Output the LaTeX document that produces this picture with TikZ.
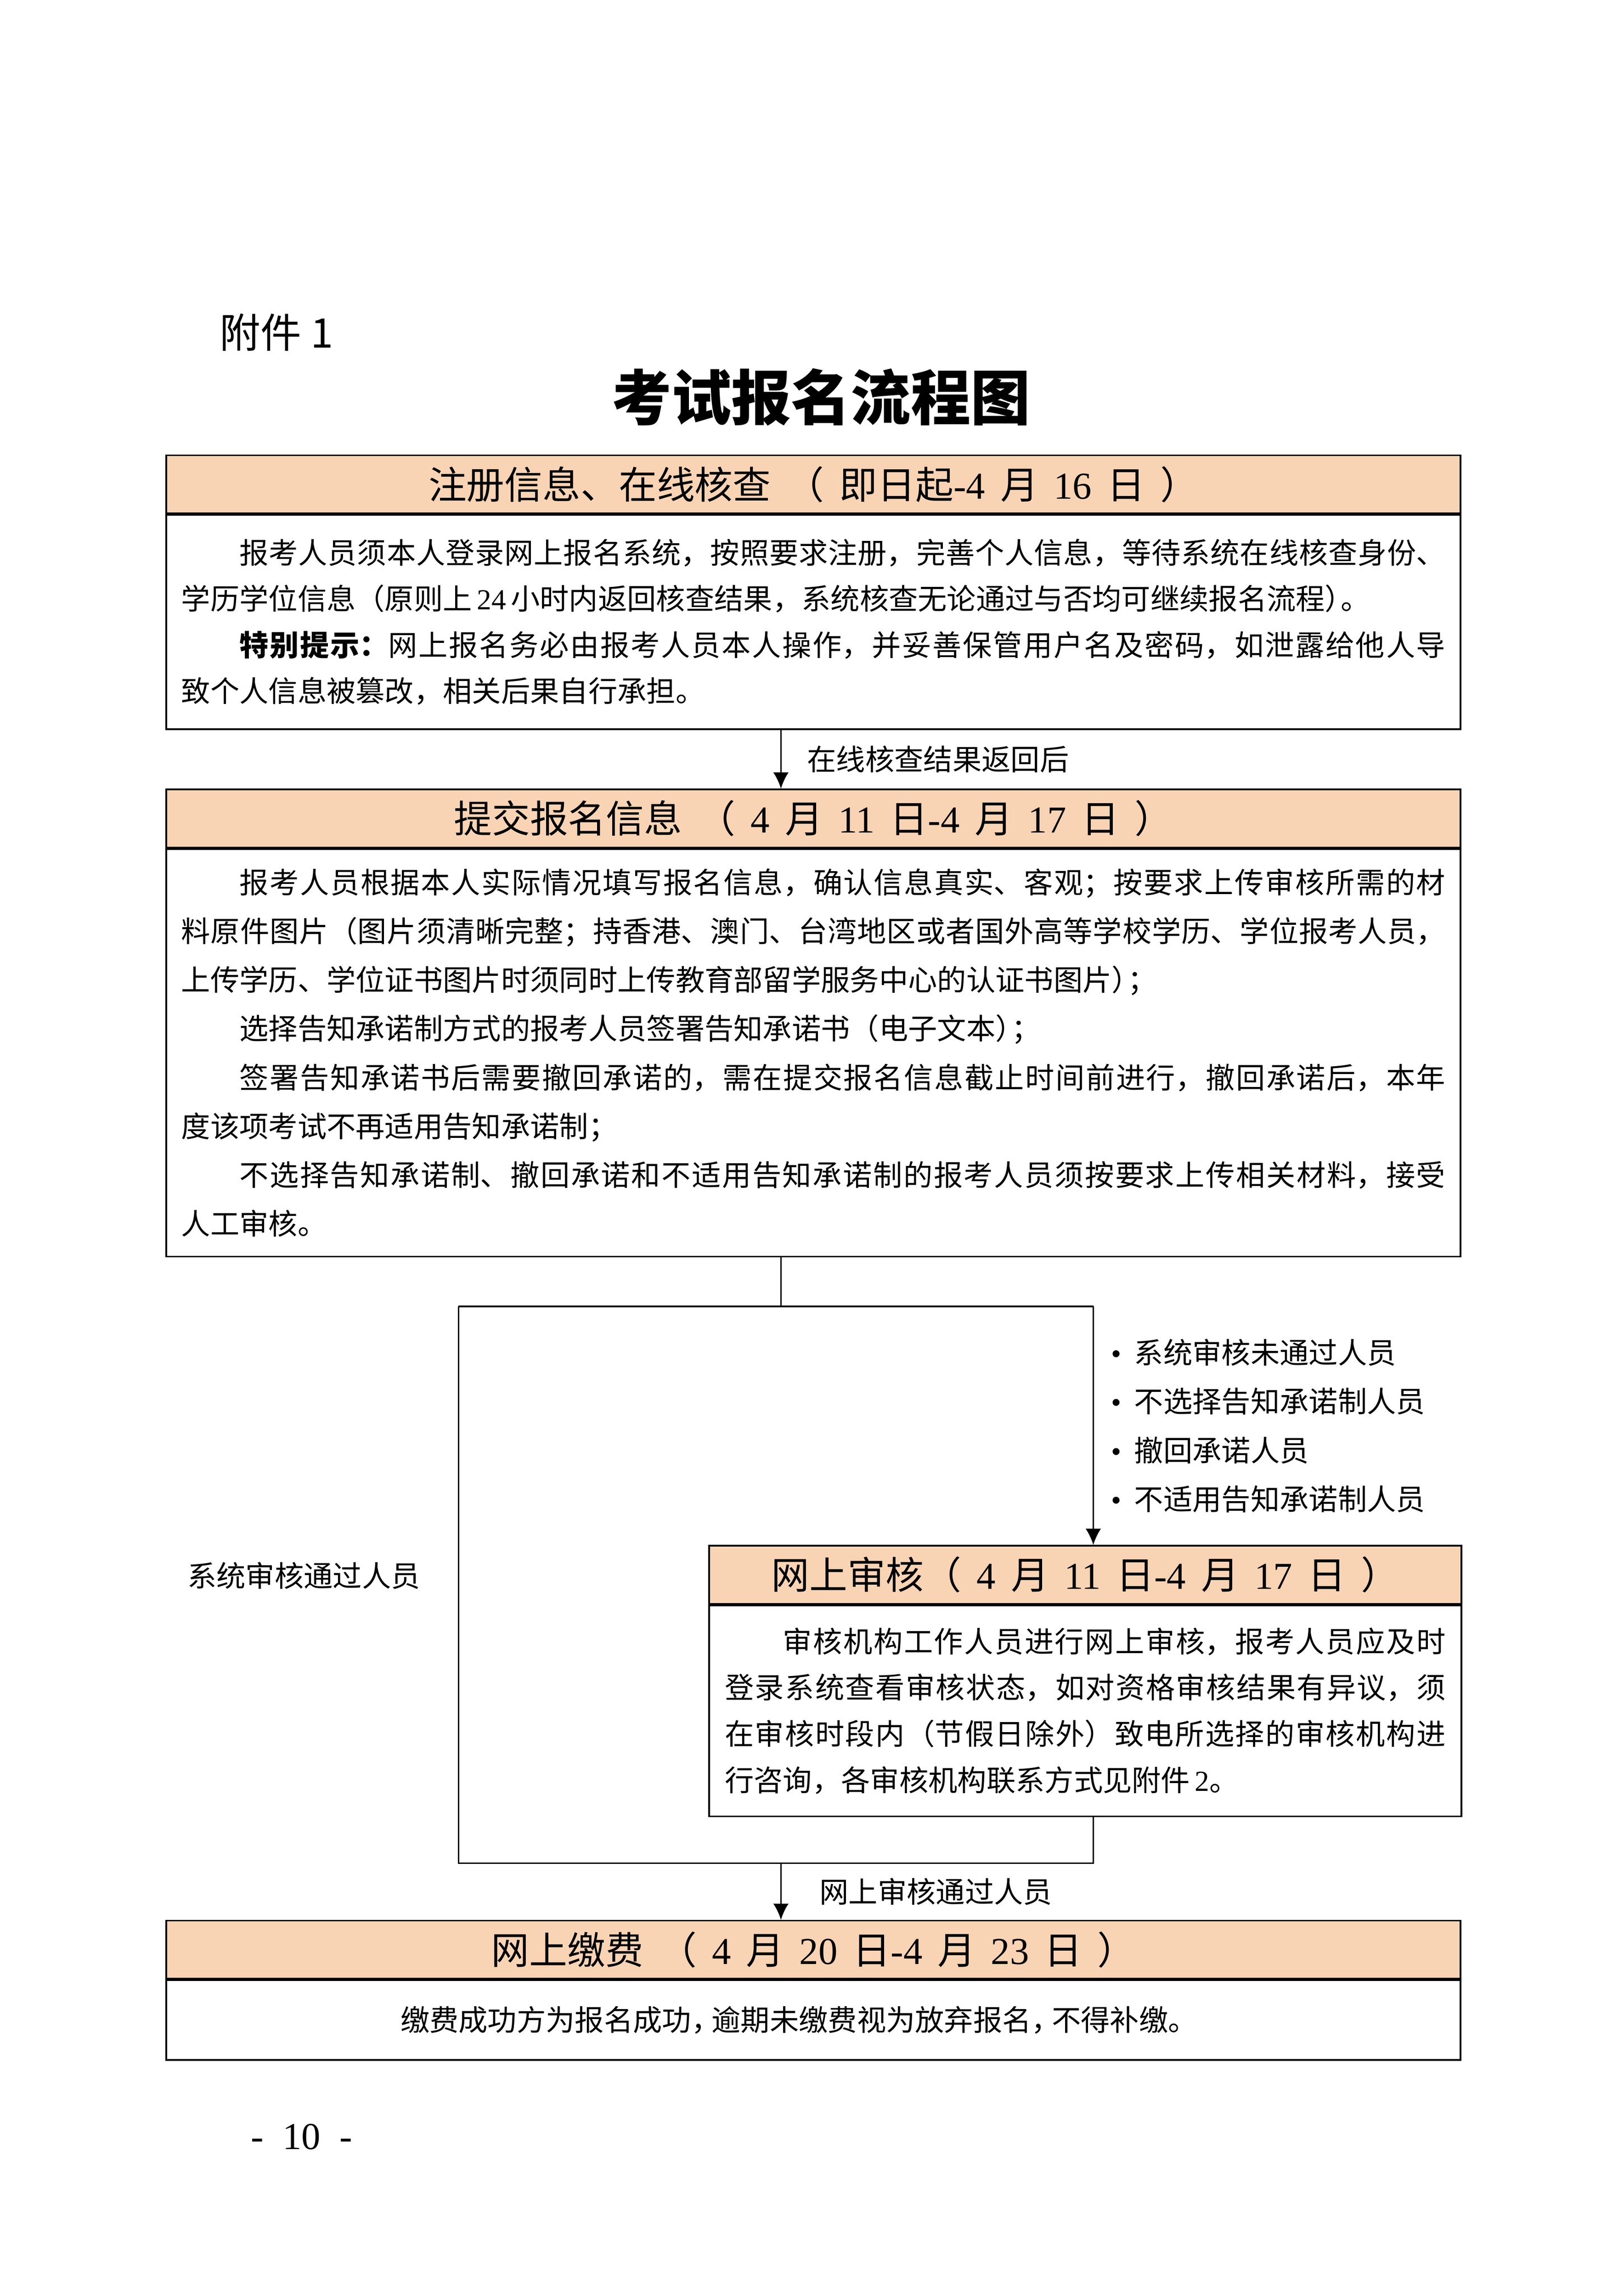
\documentclass[tikz,border=0pt]{standalone}
\usepackage{fontspec}
\setmainfont{Noto Sans CJK SC}
\newfontfamily\lat{Liberation Serif}
\usetikzlibrary{positioning,arrows.meta}
\XeTeXlinebreaklocale "zh"
\XeTeXlinebreakskip=0pt plus 1pt
\setlength{\parindent}{0pt}
\definecolor{headfill}{HTML}{F9D4B4}
\newcommand\gap{\hspace{0.4em}}
\newcommand\tight{\kern-0.45em}
\newcommand\dotitem{{\lat •}\hspace{0.45em}}
\tikzset{
	head/.style={draw,line width=0.6pt,fill=headfill,minimum height=0.75cm,inner sep=0pt,font=\fontsize{14}{16}\selectfont},
	body/.style={draw,line width=0.6pt,inner sep=0pt,align=justify,font=\fontsize{10.7}{17}\selectfont},
	link/.style={line width=0.6pt},
	arr/.style={line width=0.6pt,-{Latex[length=2.1mm,width=2mm]}},
	lbl/.style={inner sep=0pt,font=\fontsize{10.7}{18}\selectfont}
}
\begin{document}
\begin{tikzpicture}
	\useasboundingbox (0,0) rectangle (21,-29.7);
	\coordinate (splitM) at (10.10,-16.90);
	\coordinate (splitL) at (5.93,-16.90);
	\coordinate (splitR) at (14.14,-16.90);
	\coordinate (joinL)  at (5.93,-24.10);
	\coordinate (joinM)  at (10.10,-24.10);
	\coordinate (joinR)  at (14.14,-24.10);

	\node[anchor=west,font=\fontsize{15}{18}\selectfont] (annex) at (2.72,-4.30) {附件 1};
	\node[font=\bfseries\fontsize{22}{26}\selectfont] (title) at (10.62,-5.14) {考试报名流程图};

	% registration
	\node[head,minimum width=16.74cm] (h1) at (10.52,-6.265) {注册信息、在线核查\gap{}（\gap{}即日起{\lat -4}\gap{}月\gap{}{\lat 16}\gap{}日\gap{}）};
	\node[body,text width=16.35cm,minimum width=16.74cm,minimum height=2.77cm,below=0pt of h1] (b1) {\hspace*{2em}报考人员须本人登录网上报名系统，按照要求注册，完善个人信息，等待系统在线核查身份、\linebreak
学历学位信息（原则上{\lat\,24\,}小时内返回核查结果，系统核查无论通过与否均可继续报名流程）\tight{}。\par
\hspace*{2em}{\bfseries 特别提示：}网上报名务必由报考人员本人操作，并妥善保管用户名及密码，如泄露给他人导\linebreak
致个人信息被篡改，相关后果自行承担。};

	% submit
	\node[head,minimum width=16.74cm,below=0.76cm of b1] (h2) {提交报名信息\gap{}（\gap{}{\lat 4}\gap{}月\gap{}{\lat 11}\gap{}日{\lat -4}\gap{}月\gap{}{\lat 17}\gap{}日\gap{}）};
	\node[body,text width=16.35cm,minimum width=16.74cm,minimum height=5.27cm,below=0pt of h2,font=\fontsize{10.7}{17.95}\selectfont] (b2) {\hspace*{2em}报考人员根据本人实际情况填写报名信息，确认信息真实、客观；按要求上传审核所需的材\linebreak
料原件图片（图片须清晰完整；持香港、澳门、台湾地区或者国外高等学校学历、学位报考人员，\linebreak
上传学历、学位证书图片时须同时上传教育部留学服务中心的认证书图片）\tight{}；\par
\hspace*{2em}选择告知承诺制方式的报考人员签署告知承诺书（电子文本）\tight{}；\par
\hspace*{2em}签署告知承诺书后需要撤回承诺的，需在提交报名信息截止时间前进行，撤回承诺后，本年\linebreak
度该项考试不再适用告知承诺制；\par
\hspace*{2em}不选择告知承诺制、撤回承诺和不适用告知承诺制的报考人员须按要求上传相关材料，接受\linebreak
人工审核。};

	% online review
	\node[head,minimum width=9.73cm] (h3) at (14.035,-20.37) {网上审核（\gap{}{\lat 4}\gap{}月\gap{}{\lat 11}\gap{}日{\lat -4}\gap{}月\gap{}{\lat 17}\gap{}日\gap{}）};
	\node[body,text width=9.32cm,minimum width=9.73cm,minimum height=2.73cm,below=0pt of h3] (b3) {\hspace*{2em}审核机构工作人员进行网上审核，报考人员应及时\linebreak
登录系统查看审核状态，如对资格审核结果有异议，须\linebreak
在审核时段内（节假日除外）致电所选择的审核机构进\linebreak
行咨询，各审核机构联系方式见附件{\lat\,2}。};

	% payment
	\node[head,minimum width=16.74cm] (h4) at (10.52,-25.22) {网上缴费\gap{}（\gap{}{\lat 4}\gap{}月\gap{}{\lat 20}\gap{}日{\lat -4}\gap{}月\gap{}{\lat 23}\gap{}日\gap{}）};
	\node[body,align=center,minimum width=16.74cm,minimum height=1.03cm,below=0pt of h4] (b4) {\hspace*{-1em}缴费成功方为报名成功，\kern-0.3em 逾期未缴费视为放弃报名，\kern-0.3em 不得补缴。};

	\draw[arr] (b1.south -| splitM) -- (h2.north -| splitM) node[lbl,midway,right=0.33cm] {在线核查结果返回后};
	\draw[link] (b2.south -| splitM) -- (splitM);
	\draw[link] (splitL) -- (splitR);
	\draw[arr] (splitR) -- (h3.north -| splitR) node[lbl,midway,right=0.22cm,align=left] {\dotitem{}系统审核未通过人员\\\dotitem{}不选择告知承诺制人员\\\dotitem{}撤回承诺人员\\\dotitem{}不适用告知承诺制人员};
	\draw[link] (splitL) -- (joinL) -- (joinR) -- (b3.south -| joinR);
	\node[lbl,left=0.49cm] (passLbl) at (5.93,-20.38) {系统审核通过人员};
	\draw[arr] (joinM) -- (h4.north -| joinM) node[lbl,midway,right=0.49cm] {网上审核通过人员};

	\node[font=\lat\fontsize{14}{16}\selectfont] (page) at (3.90,-27.64) {-\enspace 10\enspace -};
\end{tikzpicture}
\end{document}
